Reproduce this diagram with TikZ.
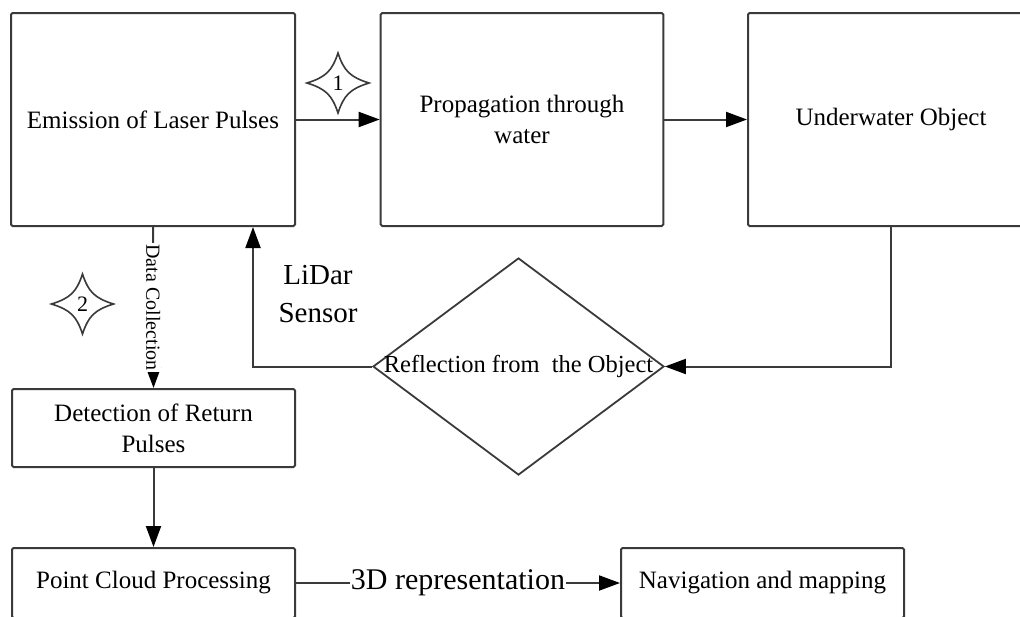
\documentclass[tikz,border=0pt]{standalone}
\usepackage{fontspec}
\setmainfont{Liberation Serif}
\usetikzlibrary{arrows.meta,shapes.geometric}
\definecolor{edge}{HTML}{3A3A3A}
\begin{document}
\begin{tikzpicture}[x=1pt,y=-1pt,
  box/.style={draw=edge,line width=2pt,rounded corners=1.5pt,fill=white,
    inner sep=0pt,align=center,font=\fontsize{25}{31}\selectfont},
  diam/.style={draw=edge,line width=1.8pt,diamond,inner sep=0pt,
    minimum width=291pt,minimum height=217pt},
  link/.style={draw=edge,line width=2pt},
  arr/.style={link,-{Triangle[length=21pt,width=15pt,color=black]}},
  tag/.style={fill=white,inner sep=1pt},
  fourstar/.pic={
    \draw[edge,line width=1.6pt,fill=white,line join=miter]
      (0,-30) .. controls (6,-12) and (12,-6) .. (31,0)
      .. controls (12,6) and (6,12) .. (0,30)
      .. controls (-6,12) and (-12,6) .. (-31,0)
      .. controls (-12,-6) and (-6,-12) .. cycle;
  }
]
\useasboundingbox (0,0) rectangle (1020,616);
\clip (0,0) rectangle (1020,616);

% process blocks
\node[box,minimum width=284pt,minimum height=213pt] (emit) at (153,119.5)
  {Emission of Laser Pulses};
\node[box,minimum width=282.6pt,minimum height=213pt] (prop) at (522,119.5)
  {Propagation through\\water};
\node[box,minimum width=286pt,minimum height=213pt] (under) at (891,119.5)
  {Underwater Object};
\node[diam] (refl) at (518.5,366.5) {};
\node[font=\fontsize{24.5}{31}\selectfont,inner sep=0pt] (refltext) at (refl.center)
  {Reflection from\ \ the Object};
\node[box,minimum width=283pt,minimum height=78pt] (det) at (153.5,428)
  {Detection of Return\\Pulses};
\node[box,minimum width=283pt,minimum height=70pt] (pc) at (153.5,583)
  {Point Cloud Processing};
\node[box,minimum width=283pt,minimum height=70pt] (nav) at (762.5,583)
  {Navigation and mapping};

% step markers
\pic at (338,83) {fourstar};
\node[font=\fontsize{22}{22}\selectfont] (m1) at (338,83) {1};
\pic at (82.5,304) {fourstar};
\node[font=\fontsize{22}{22}\selectfont] (m2) at (82.5,304) {2};

% connectors
\draw[arr] (emit) -- (prop);
\draw[arr] (prop) -- (under);
\draw[arr] (under.south) |- (refl.east);
\draw[arr] (refl.west) -| ([xshift=100pt]emit.south);
\draw[arr] (emit.south) -- node[tag,rotate=-90,
  font=\fontsize{20}{20}\selectfont] (dc) {Data Collection} (det.north);
\draw[arr] (det) -- (pc);
\draw[arr] (pc) -- node[tag,font=\fontsize{30}{30}\selectfont] (rep)
  {3D representation} (nav);

\node[align=center,font=\fontsize{29}{38}\selectfont] (lidar) at (318,294)
  {LiDar\\Sensor};
\end{tikzpicture}
\end{document}
